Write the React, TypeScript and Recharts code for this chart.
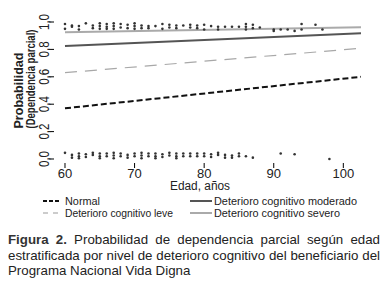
import React from 'react';
import {
  ComposedChart,
  Line,
  Scatter,
  XAxis,
  YAxis,
  ReferenceArea,
} from 'recharts';

// Ejes
const xTicks = [60, 70, 80, 90, 100];
const yTicks = [0, 0.2, 0.4, 0.6, 0.8, 1];

// Curvas ajustadas (edad inicial y final)
const lineAges = [60, 102.54];
const normalProb = [0.37, 0.6];
const leveProb = [0.63, 0.808];
const moderadoProb = [0.825, 0.917];
const severoProb = [0.925, 0.961];

// Observaciones con dependencia parcial (arriba) y sin ella (abajo)
const topAges = [
  60, 60, 61, 61, 62, 62, 63, 64, 64, 65, 65, 65, 66, 66, 66, 67, 67, 67, 68, 68,
  69, 69, 70, 70, 70, 71, 71, 72, 72, 73, 74, 74, 75, 75, 76, 76, 77, 78, 78, 79,
  79, 80, 80, 81, 82, 82, 83, 84, 85, 86, 86, 86, 87, 87, 88, 90, 90, 91, 92, 93,
  94, 94, 96, 97,
];
const topProbs = [
  0.985, 0.95, 0.975, 0.965, 0.97, 0.945, 0.99, 0.975, 0.955, 0.99, 0.97, 0.95,
  0.985, 0.965, 0.95, 0.99, 0.97, 0.95, 0.985, 0.96, 0.98, 0.955, 0.99, 0.97, 0.95,
  0.975, 0.955, 0.97, 0.955, 0.97, 0.985, 0.95, 0.98, 0.96, 0.975, 0.955, 0.975,
  0.98, 0.96, 0.975, 0.955, 0.98, 0.945, 0.97, 0.965, 0.945, 0.965, 0.965, 0.965,
  0.985, 0.965, 0.945, 0.98, 0.955, 0.96, 0.945, 0.935, 0.945, 0.945, 0.935, 0.985,
  0.945, 0.98, 0.945,
];
const bottomAges = [
  60, 61, 61, 62, 62, 62, 63, 63, 64, 64, 65, 65, 65, 66, 66, 67, 67, 67, 68, 68,
  69, 69, 70, 70, 71, 71, 71, 72, 72, 73, 73, 73, 74, 74, 75, 75, 76, 76, 76, 77,
  77, 78, 78, 79, 79, 80, 80, 81, 81, 82, 82, 83, 83, 84, 84, 85, 85, 86, 87, 91,
  93, 98,
];
const bottomProbs = [
  0.045, 0.03, 0.01, 0.04, 0.02, 0.005, 0.035, 0.015, 0.045, 0.03, 0.04, 0.02,
  0.005, 0.04, 0.02, 0.045, 0.025, 0.005, 0.04, 0.02, 0.03, 0.01, 0.04, 0.02,
  0.045, 0.025, 0.005, 0.04, 0.02, 0.04, 0.02, 0.005, 0.035, 0.015, 0.045, 0.025,
  0.04, 0.02, 0.005, 0.04, 0.02, 0.04, 0.02, 0.04, 0.02, 0.04, 0.02, 0.035, 0.015,
  0.045, 0.03, 0.03, 0.01, 0.025, 0.01, 0.04, 0.02, 0.02, 0.01, 0.04, 0.035, 0.0,
];

const font = '"Liberation Sans", Arial, sans-serif';
const textColor = '#222';

const lineData = lineAges.map((age, i) => ({
  age,
  normal: normalProb[i],
  leve: leveProb[i],
  moderado: moderadoProb[i],
  severo: severoProb[i],
}));
const points = [
  ...topAges.map((age, i) => ({ age, p: topProbs[i] })),
  ...bottomAges.map((age, i) => ({ age, p: bottomProbs[i] })),
];

const XTick = ({ x, y, payload }: any) => (
  <text x={x} y={y + 9.5} textAnchor="middle" fontSize={13} fill={textColor} fontFamily={font}>
    {payload.value}
  </text>
);

// etiquetas verticales, estilo R (las = 0), algo condensadas
const YTick = ({ x, y, payload }: any) => (
  <text
    x={x + 0.5}
    y={y}
    transform={`rotate(-90, ${x + 0.5}, ${y})`}
    textAnchor="middle"
    fontSize={14}
    fill={textColor}
    fontFamily={font}
    textLength={16}
    lengthAdjust="spacingAndGlyphs"
  >
    {payload.value.toFixed(1).replace('.', ',')}
  </text>
);

const Dot = ({ cx, cy }: any) => <circle cx={cx} cy={cy} r={1.3} fill="#333" />;

export default function App() {
  return (
    <div style={{ position: 'absolute', left: 0, top: 0, width: 390, height: 291, background: '#fff' }}>
      <ComposedChart
        width={390}
        height={195}
        data={lineData}
        margin={{ top: 16, right: 29, bottom: 0, left: 0 }}
      >
        <XAxis
          dataKey="age"
          type="number"
          domain={[58.42, 102.54]}
          ticks={xTicks}
          interval={0}
          allowDataOverflow
          height={32}
          tickSize={5}
          tickMargin={0}
          tick={<XTick />}
          axisLine={false}
          tickLine={{ stroke: '#000' }}
        />
        <YAxis
          type="number"
          domain={[-0.0292, 1.0438]}
          ticks={yTicks}
          interval={0}
          allowDataOverflow
          width={54}
          tickSize={5}
          tickMargin={0}
          tick={<YTick />}
          axisLine={false}
          tickLine={{ stroke: '#000' }}
        />
        <ReferenceArea fill="none" stroke="#000" strokeWidth={1.4} />
        <Line dataKey="severo" type="linear" stroke="#aaa" strokeWidth={2} dot={false} isAnimationActive={false} />
        <Line dataKey="moderado" type="linear" stroke="#555" strokeWidth={2} dot={false} isAnimationActive={false} />
        <Line
          dataKey="leve"
          type="linear"
          stroke="#a8a8a8"
          strokeWidth={1.2}
          strokeDasharray="12 8"
          dot={false}
          isAnimationActive={false}
        />
        <Line
          dataKey="normal"
          type="linear"
          stroke="#111"
          strokeWidth={2}
          strokeDasharray="6 3"
          dot={false}
          isAnimationActive={false}
        />
        <Scatter data={points} dataKey="p" shape={<Dot />} isAnimationActive={false} />
      </ComposedChart>

      <svg
        width={390}
        height={225}
        style={{ position: 'absolute', left: 0, top: 0, pointerEvents: 'none' }}
        fontFamily={font}
      >
        <g fill={textColor} fontWeight="bold" fontSize={13}>
          <text x={22.5} y={90.5} transform="rotate(-90, 22.5, 90.5)" textAnchor="middle" textLength={76} lengthAdjust="spacingAndGlyphs">
            Probabilidad
          </text>
          <text x={35} y={79} transform="rotate(-90, 35, 79)" textAnchor="middle" textLength={99} lengthAdjust="spacingAndGlyphs">
            (Dependencia parcial)
          </text>
        </g>
        <text x={200} y={190} textAnchor="middle" fontSize={12.5} fill={textColor} textLength={60} lengthAdjust="spacingAndGlyphs">
          Edad, años
        </text>
        <g fontSize={11.5} fill={textColor}>
          <line x1={43} x2={60} y1={201} y2={201} stroke="#111" strokeWidth={2} strokeDasharray="4 2" />
          <text x={65} y={205} textLength={35} lengthAdjust="spacingAndGlyphs">Normal</text>
          <line x1={43} x2={60} y1={213} y2={213} stroke="#999" strokeWidth={1} strokeDasharray="5 5" />
          <text x={65} y={217} textLength={108} lengthAdjust="spacingAndGlyphs">Deterioro cognitivo leve</text>
          <line x1={190} x2={212} y1={201} y2={201} stroke="#555" strokeWidth={2} />
          <text x={214} y={205} textLength={143} lengthAdjust="spacingAndGlyphs">Deterioro cognitivo moderado</text>
          <line x1={190} x2={212} y1={213} y2={213} stroke="#aaa" strokeWidth={2} />
          <text x={214} y={217} textLength={126} lengthAdjust="spacingAndGlyphs">Deterioro cognitivo severo</text>
        </g>
      </svg>

      <div
        style={{
          position: 'absolute',
          left: 8,
          top: 232,
          width: 372,
          fontFamily: font,
          fontSize: 13.3,
          lineHeight: '15.6px',
          color: '#222',
          textAlign: 'justify',
        }}
      >
        <b style={{ color: '#333' }}>Figura 2.</b> Probabilidad de dependencia parcial según edad
        estratificada por nivel de deterioro cognitivo del beneficiario del Programa Nacional Vida Digna
      </div>
    </div>
  );
}
